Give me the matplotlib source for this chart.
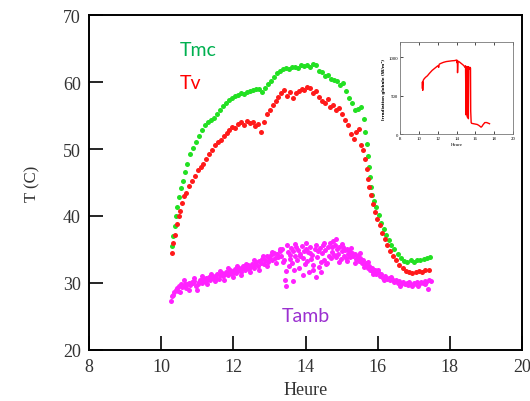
import matplotlib
matplotlib.use("Agg")
import matplotlib.pyplot as plt

# Tmc (green)
tmc_t = [10.30, 10.33, 10.37, 10.41, 10.45, 10.50, 10.55, 10.60, 10.66, 10.72, 10.80, 10.88, 10.96,
         11.04, 11.12, 11.21, 11.30, 11.38, 11.47, 11.55, 11.63, 11.71, 11.79, 11.88, 11.96, 12.04,
         12.13, 12.21, 12.29, 12.38, 12.46, 12.54, 12.63, 12.71, 12.79, 12.88, 12.96, 13.04, 13.13,
         13.21, 13.29, 13.38, 13.46, 13.54, 13.63, 13.71, 13.79, 13.88, 13.96, 14.04, 14.13, 14.21,
         14.29, 14.38, 14.46, 14.54, 14.63, 14.71, 14.79, 14.88, 14.96, 15.04, 15.13, 15.21, 15.29,
         15.38, 15.46, 15.54, 15.62, 15.66, 15.69, 15.72, 15.75, 15.78, 15.81, 15.85, 15.90, 15.96,
         16.03, 16.10, 16.17, 16.24, 16.31, 16.38, 16.46, 16.55, 16.64, 16.73, 16.82, 16.91, 17.00,
         17.09, 17.18, 17.27, 17.36, 17.44]
tmc_T = [35.5, 37.0, 38.5, 40.0, 41.3, 42.8, 44.2, 45.2, 46.6, 47.8, 49.2, 50.2, 51.0,
         52.0, 52.8, 53.6, 54.1, 54.4, 54.7, 55.3, 55.9, 56.4, 56.8, 57.3, 57.6, 57.9,
         58.1, 58.3, 58.2, 58.5, 58.6, 58.8, 59.0, 58.9, 58.5, 59.1, 59.7, 60.2, 60.8,
         61.3, 61.7, 61.9, 62.1, 62.0, 62.2, 62.3, 62.1, 62.5, 62.4, 62.6, 62.3, 62.7,
         62.6, 61.7, 61.5, 60.9, 61.0, 60.5, 60.3, 60.2, 59.5, 59.8, 58.7, 57.6, 56.8,
         55.9, 56.0, 56.3, 54.5, 52.5, 50.8, 49.0, 47.3, 45.8, 44.3, 43.2, 42.2, 41.3,
         40.2, 39.0, 38.0, 37.2, 36.4, 35.7, 35.0, 34.3, 33.7, 33.3, 33.2, 33.4, 33.2,
         33.4, 33.5, 33.6, 33.7, 33.9]

# Tv (red)
tv_t = [10.30, 10.34, 10.38, 10.43, 10.48, 10.53, 10.58, 10.64, 10.70, 10.77, 10.85, 10.93, 11.01,
        11.09, 11.17, 11.25, 11.33, 11.41, 11.49, 11.57, 11.65, 11.73, 11.81, 11.89, 11.97, 12.05,
        12.13, 12.21, 12.29, 12.37, 12.45, 12.53, 12.61, 12.69, 12.77, 12.85, 12.93, 13.01, 13.09,
        13.17, 13.25, 13.33, 13.41, 13.49, 13.57, 13.65, 13.73, 13.81, 13.89, 13.97, 14.05, 14.13,
        14.21, 14.29, 14.37, 14.45, 14.53, 14.61, 14.69, 14.77, 14.85, 14.93, 15.01, 15.09, 15.17,
        15.25, 15.33, 15.41, 15.49, 15.55, 15.60, 15.65, 15.69, 15.73, 15.77, 15.81, 15.86, 15.92,
        15.98, 16.05, 16.12, 16.19, 16.26, 16.34, 16.42, 16.51, 16.60, 16.69, 16.78, 16.87, 16.96,
        17.05, 17.14, 17.23, 17.32, 17.41]
tv_T = [34.5, 36.0, 37.2, 38.8, 40.0, 40.8, 42.0, 43.0, 43.5, 44.5, 45.2, 46.0, 46.8,
        47.3, 47.8, 48.5, 49.3, 49.8, 50.6, 51.0, 51.3, 51.9, 52.4, 52.9, 53.3, 53.2,
        53.8, 54.1, 53.6, 54.2, 53.9, 54.0, 53.4, 53.8, 52.6, 54.0, 55.2, 55.8, 56.5,
        57.1, 57.8, 58.4, 58.8, 57.9, 58.5, 57.6, 58.3, 58.6, 58.9, 58.8, 59.2, 59.1,
        58.3, 58.6, 57.8, 57.2, 56.9, 57.4, 56.3, 56.6, 55.8, 56.1, 55.2, 54.3, 53.6,
        52.2, 51.5, 52.6, 53.0, 50.6, 49.8, 48.5, 47.0, 45.5, 44.3, 43.2, 41.8, 40.6,
        39.6, 38.6, 37.4, 36.5, 35.6, 34.8, 34.0, 33.4, 32.7, 32.2, 31.8, 31.6, 31.5,
        31.6, 31.8, 31.7, 31.9, 32.0]

# Tamb (magenta)
amb_t = [10.28, 10.30, 10.33, 10.36, 10.40, 10.44, 10.47, 10.50, 10.54, 10.57, 10.61, 10.65, 10.69,
         10.72, 10.76, 10.80, 10.84, 10.88, 10.92, 10.96, 11.00, 11.04, 11.08, 11.12, 11.16, 11.20,
         11.24, 11.28, 11.32, 11.36, 11.40, 11.44, 11.48, 11.52, 11.56, 11.60, 11.64, 11.68, 11.72,
         11.76, 11.80, 11.84, 11.88, 11.92, 11.96, 12.00, 12.04, 12.08, 12.12, 12.16, 12.20, 12.24,
         12.28, 12.32, 12.36, 12.40, 12.44, 12.48, 12.52, 12.56, 12.60, 12.64, 12.68, 12.72, 12.76,
         12.80, 12.84, 12.88, 12.92, 12.96, 13.00, 13.04, 13.08, 13.12, 13.16, 13.20, 13.24, 13.28,
         13.32, 13.36, 13.40, 13.43, 13.45, 13.47, 13.50, 13.53, 13.56, 13.59, 13.62, 13.65, 13.68,
         13.71, 13.74, 13.77, 13.80, 13.83, 13.86, 13.89, 13.92, 13.95, 13.98, 14.01, 14.04, 14.07,
         14.10, 14.13, 14.16, 14.19, 14.22, 14.25, 14.28, 14.31, 14.34, 14.37, 14.40, 14.43, 14.46,
         14.49, 14.52, 14.55, 14.58, 14.61, 14.64, 14.67, 14.70, 14.73, 14.76, 14.79, 14.82, 14.85,
         14.88, 14.91, 14.94, 14.97, 15.00, 15.03, 15.06, 15.09, 15.12, 15.15, 15.18, 15.21, 15.24,
         15.28, 15.32, 15.36, 15.40, 15.44, 15.48, 15.52, 15.56, 15.60, 15.64, 15.68, 15.72, 15.76,
         15.80, 15.84, 15.88, 15.92, 15.96, 16.00, 16.05, 16.10, 16.15, 16.20, 16.25, 16.30, 16.35,
         16.40, 16.45, 16.50, 16.55, 16.60, 16.65, 16.70, 16.75, 16.80, 16.85, 16.90, 16.95, 17.00,
         17.05, 17.10, 17.15, 17.20, 17.25, 17.30, 17.35, 17.40, 17.43, 17.47,
         10.52, 10.63, 10.78, 10.90, 11.02, 11.14, 11.26, 11.38, 11.50, 11.62, 11.74, 11.86, 11.98,
         12.10, 12.22, 12.34, 12.46, 12.58, 12.70, 12.82, 12.94, 13.06, 13.18, 13.30, 13.38, 13.48,
         13.58, 13.66, 13.72, 13.84, 13.94, 14.02, 14.12, 14.20, 14.30, 14.42, 14.50, 14.60, 14.72,
         14.84, 14.92, 15.02, 15.14, 15.26, 15.38, 15.50, 15.62, 15.74, 15.86, 16.02, 16.18, 16.38,
         16.62, 16.88, 17.12, 17.32]
amb_T = [27.3, 28.0, 28.2, 28.6, 28.9, 29.2, 28.8, 29.5, 29.9, 29.4, 29.6, 29.9, 29.3,
         29.8, 30.0, 29.7, 30.1, 30.0, 30.3, 29.6, 28.9, 30.2, 30.4, 30.0, 30.6, 30.3,
         30.8, 30.5, 30.9, 30.4, 31.0, 30.7, 31.1, 30.8, 31.3, 30.6, 31.2, 31.5, 31.0,
         31.4, 31.7, 31.2, 31.6, 31.9, 31.3, 31.8, 32.1, 31.5, 32.0, 32.3, 31.7, 32.2,
         32.5, 31.9, 32.4, 32.7, 32.1, 32.6, 32.9, 32.3, 32.8, 33.1, 32.6, 33.3, 33.0,
         33.6, 32.8, 33.5, 34.0, 33.2, 33.8, 34.2, 33.4, 34.5, 33.7, 34.4, 33.9, 34.7,
         34.1, 35.0, 33.5, 30.5, 29.5, 31.8, 34.6, 32.6, 34.2, 35.2, 33.0, 34.8, 31.9,
         34.0, 35.3, 33.4, 34.9, 32.3, 34.4, 35.5, 33.8, 34.7, 32.9, 35.1, 33.3, 34.6,
         31.6, 35.4, 33.6, 34.2, 32.7, 35.0, 30.9, 33.9, 34.8, 32.4, 35.2, 33.1, 34.5,
         35.7, 33.5, 34.9, 32.8, 35.3, 34.0, 35.9, 33.7, 34.6, 36.3, 34.2, 35.6, 33.9,
         35.0, 34.4, 35.3, 33.6, 34.8, 35.4, 34.1, 34.9, 33.8, 35.1, 34.3, 34.7, 33.9,
         34.5, 34.0, 34.3, 33.6, 34.1, 33.3, 33.8, 33.0, 33.4, 32.7, 33.0, 32.2, 32.6,
         32.0, 32.3, 31.7, 31.9, 31.3, 31.6, 31.1, 31.3, 30.8, 31.0, 30.6, 30.8, 30.4,
         30.6, 30.2, 30.4, 30.0, 30.3, 29.9, 30.1, 29.8, 30.0, 29.7, 29.9, 29.6, 30.0,
         29.8, 30.1, 29.9, 30.2, 30.0, 30.3, 30.1, 29.1, 30.4, 30.3,
         28.7, 30.4, 29.0, 30.8, 29.9, 31.0, 29.9, 31.4, 30.3, 31.8, 30.5, 32.2, 30.9,
         32.6, 31.2, 32.9, 31.6, 33.4, 32.0, 34.0, 32.6, 34.6, 33.0, 35.0, 33.2, 35.6,
         33.6, 30.3, 35.8, 34.0, 31.2, 35.9, 34.5, 32.0, 35.6, 31.6, 36.0, 33.0, 35.4,
         36.6, 33.2, 35.8, 33.3, 35.2, 33.0, 34.5, 32.4, 33.2, 31.4, 32.0, 30.5, 30.9,
         29.6, 30.2, 29.6, 29.8]

# inset: global irradiance
irr_t = [10.35, 10.37, 10.40, 10.45, 10.55, 10.70, 10.90, 11.10, 11.40, 11.70, 12.00, 12.10, 12.15,
         12.30, 12.60, 12.90, 13.20, 13.50, 13.80, 14.00, 14.05, 14.08, 14.10, 14.15, 14.30, 14.50,
         14.70, 14.85, 14.90, 14.95, 15.00, 15.02, 15.05, 15.10, 15.15, 15.20, 15.22, 15.25, 15.30,
         15.33, 15.38, 15.42, 15.48, 15.50, 15.55, 15.60, 15.80, 16.00, 16.20, 16.40, 16.60, 16.70,
         16.80, 17.00, 17.20, 17.40, 17.50]
irr_G = [600, 680, 570, 700, 720, 740, 760, 790, 830, 860, 890, 870, 910,
         920, 935, 945, 950, 955, 958, 965, 930, 960, 800, 950, 940, 920,
         900, 880, 870, 890, 250, 860, 880, 850, 220, 870, 880, 200, 860,
         870, 850, 870, 860, 300, 150, 140, 135, 130, 125, 110, 90, 100,
         120, 150, 150, 140, 135]

SERIF = "Liberation Serif"
TXT = "#333333"

fig = plt.figure(figsize=(5.3, 4.02), dpi=100)
ax = fig.add_axes([0.168, 0.127, 0.817, 0.833])
ax.plot(tmc_t, tmc_T, "o", color="#22e022", ms=3.6, mec="none")
ax.plot(tv_t, tv_T, "o", color="#ff1a1a", ms=3.6, mec="none")
ax.plot(amb_t, amb_T, "o", color="#ff22ff", ms=3.6, mec="none")

ax.set_xlim(8, 20); ax.set_ylim(20, 70)
ax.set_xticks(range(8, 21, 2)); ax.set_yticks(range(20, 71, 10))
ax.tick_params(direction="in", length=10, width=1.2, labelsize=13, labelcolor=TXT, pad=6)
for lab in ax.get_xticklabels() + ax.get_yticklabels():
    lab.set_family(SERIF)
for s in ax.spines.values():
    s.set_linewidth(1.4)
ax.set_xlabel("Heure", family=SERIF, fontsize=13, color=TXT, labelpad=4)
ax.set_ylabel("T (C)", family=SERIF, fontsize=12, color=TXT, labelpad=16)

ax.text(10.5, 64.8, "Tmc", color="#00b050", fontsize=14, family="Lato", va="center")
ax.text(10.5, 60.0, "Tv", color="#ff0000", fontsize=14, family="Lato", va="center")
ax.text(13.35, 25.1, "Tamb", color="#9b30d0", fontsize=14, family="Lato", va="center")

# inset
ins = fig.add_axes([0.755, 0.664, 0.213, 0.229])
ins.plot(irr_t, irr_G, color="#ff0000", lw=1.0)
ins.set_xlim(8, 20); ins.set_ylim(0, 1200)
ins.set_xticks(range(8, 21, 2)); ins.set_yticks([0, 500, 1000])
ins.tick_params(direction="in", length=2, width=0.5, labelsize=3.5, pad=1.5, top=True)
for lab in ins.get_xticklabels() + ins.get_yticklabels():
    lab.set_family(SERIF)
for s in ins.spines.values():
    s.set_linewidth(0.6); s.set_color("#777777")
ins.set_xlabel("Heure", family=SERIF, fontsize=3.5, labelpad=1)
ins.set_ylabel("Irradiation globale (W/m²)", fontsize=3, weight="bold", labelpad=2)

fig.savefig("out.png", dpi=100)
